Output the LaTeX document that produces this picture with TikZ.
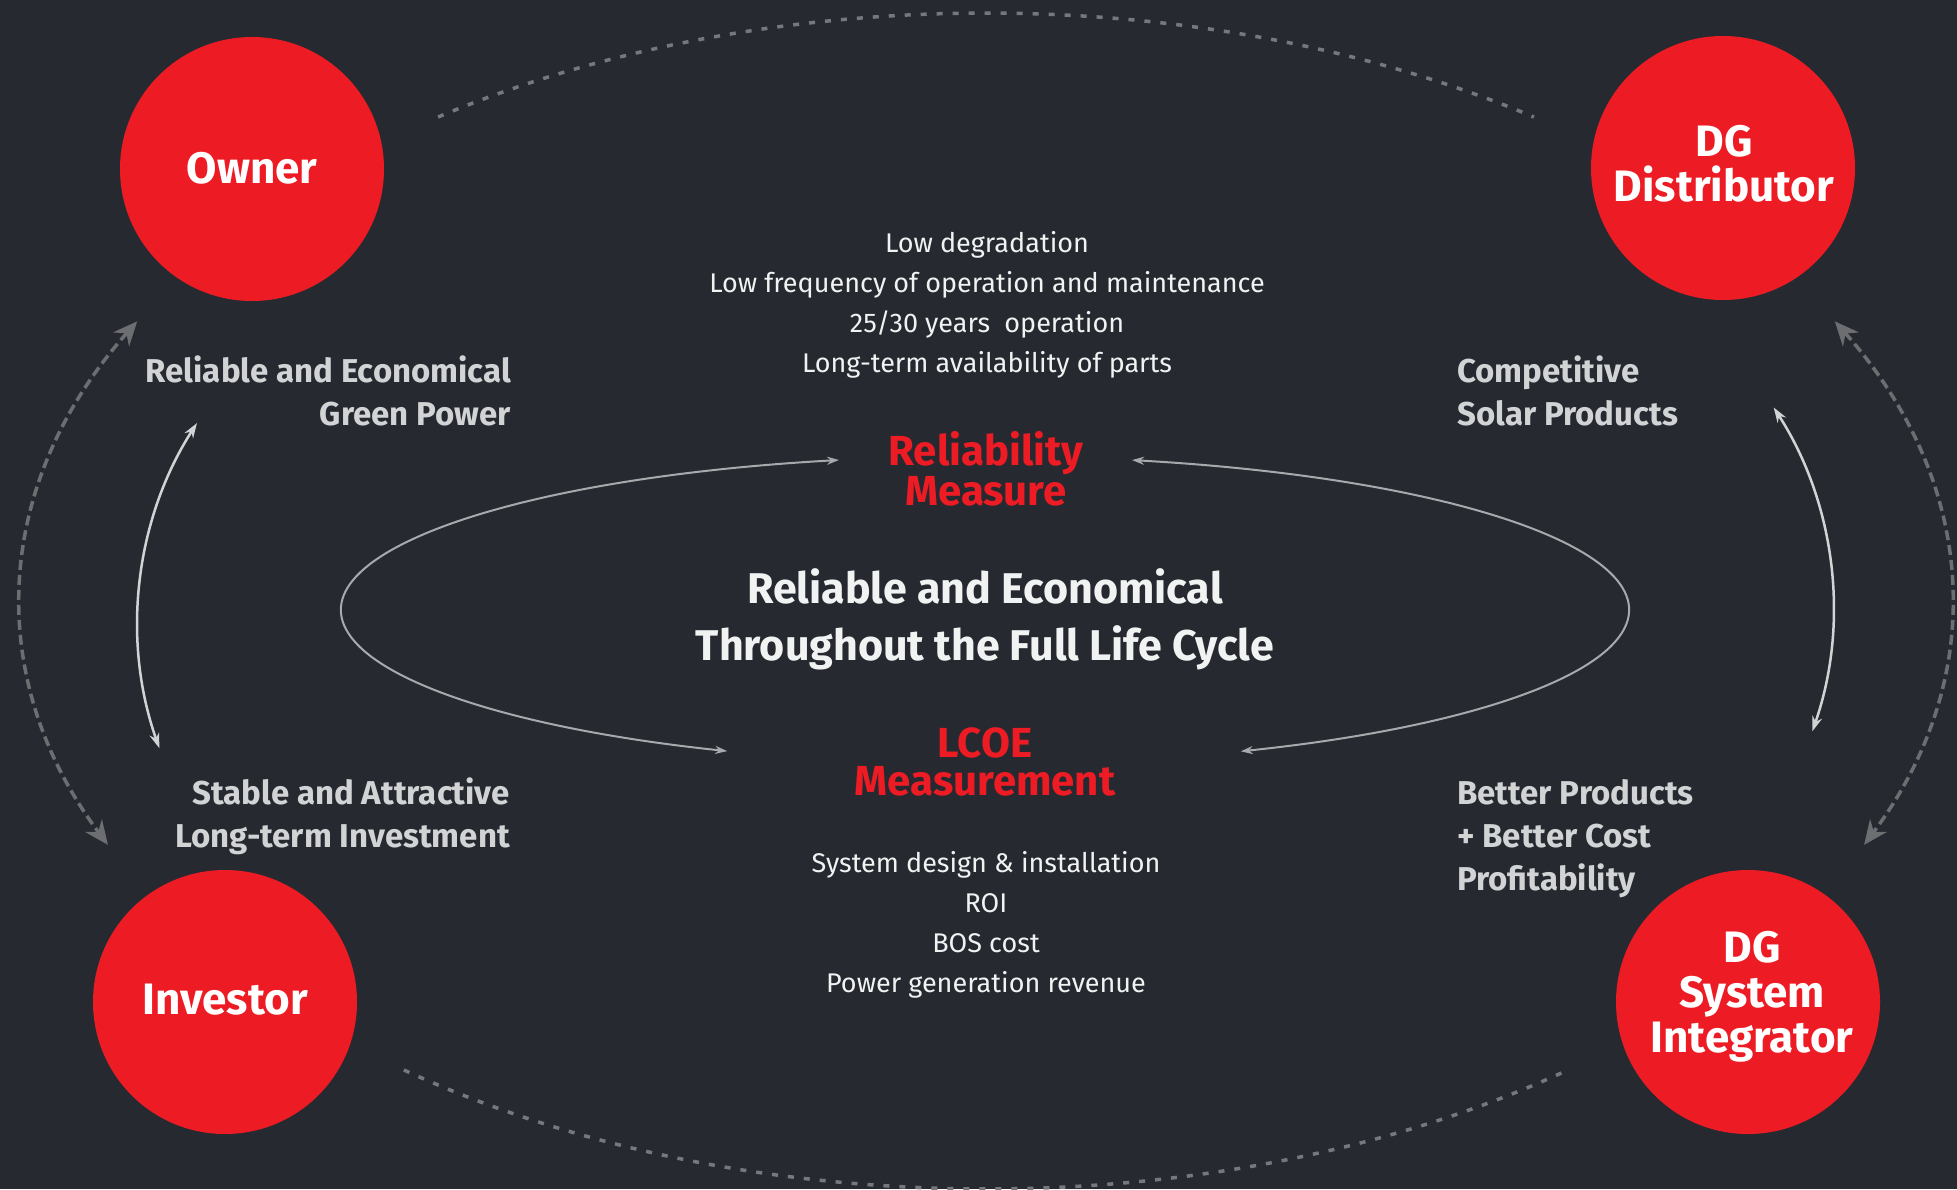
\documentclass[tikz,border=0pt]{standalone}
\usepackage{fontspec}
\setmainfont{Fira Sans}
\usetikzlibrary{arrows.meta,calc}
\definecolor{bgc}{HTML}{262A30}
\definecolor{redc}{HTML}{ED1C24}
\definecolor{whitec}{HTML}{F1F2F2}
\definecolor{sidec}{HTML}{D1D3D4}
\definecolor{dashc}{HTML}{6D6E71}
\definecolor{topc}{HTML}{77787B}
\definecolor{loopc}{HTML}{A7A9AC}
\definecolor{innerc}{HTML}{D1D3D4}
\begin{document}
\begin{tikzpicture}[x=1pt,y=1pt,
  circ/.style={circle, fill=redc, minimum size=264pt, inner sep=0pt},
  ctext/.style={text=white, font=\fontsize{44}{45}\selectfont\bfseries, align=center, inner sep=0pt},
  side/.style={text=sidec, font=\fontsize{33}{43}\selectfont\bfseries, inner sep=0pt},
  listtext/.style={text=whitec, font=\fontsize{27}{40}\selectfont, align=center, inner sep=0pt},
  redtext/.style={text=redc, font=\fontsize{42}{38}\selectfont\bfseries, align=center, inner sep=0pt},
  titletext/.style={text=whitec, font=\fontsize{43}{57}\selectfont\bfseries, align=center, inner sep=0pt},
  outerarr/.style={draw=dashc, line width=3.5pt, dash pattern=on 10pt off 5pt,
     arrows={Stealth[length=24pt,width=21pt]-Stealth[length=24pt,width=21pt]}},
  toparc/.style={draw=topc, line width=3.5pt, dash pattern=on 6pt off 10pt},
  innerarr/.style={draw=innerc, line width=2.5pt,
     arrows={Stealth[length=15pt,width=10pt]-Stealth[length=15pt,width=10pt]}},
  looparr/.style={draw=loopc, line width=2pt,
     arrows={Stealth[length=12pt,width=8pt]-Stealth[length=12pt,width=8pt]}}
]
\fill[bgc] (0,0) rectangle (1957,-1189);
\useasboundingbox (0,0) rectangle (1957,-1189);

% centres of the guide ellipses
\coordinate (bigC) at (986,-601);
\coordinate (loopC) at (985,-610);
\coordinate (leftC) at (510,-624);
\coordinate (rightC) at (1461,-609);

% big dashed ellipse pieces
\coordinate (topS) at ($(bigC)+(124.6:965pt and 588pt)$);
\coordinate (botS) at ($(bigC)+(232.9:965pt and 588pt)$);
\coordinate (oLS) at ($(bigC)+(151.6:965pt and 588pt)$);
\coordinate (oRS) at ($(bigC)+(28.4:965pt and 588pt)$);
\draw[toparc] (topS) arc[start angle=124.6, end angle=55.4, x radius=965pt, y radius=588pt];
\draw[toparc] (botS) arc[start angle=232.9, end angle=306.7, x radius=965pt, y radius=588pt];
\draw[outerarr] (oLS) arc[start angle=151.6, end angle=204.5, x radius=965pt, y radius=588pt];
\draw[outerarr] (oRS) arc[start angle=28.4, end angle=-24.5, x radius=965pt, y radius=588pt];

% inner solid side arcs
\coordinate (iLS) at ($(leftC)+(147.3:372pt)$);
\coordinate (iRS) at ($(rightC)+(32.8:372pt)$);
\draw[innerarr] (iLS) arc[start angle=147.3, end angle=199.5, radius=372pt];
\draw[innerarr] (iRS) arc[start angle=32.8, end angle=-19.2, radius=372pt];

% central loop
\coordinate (lLS) at ($(loopC)+(103.1:644pt and 154pt)$);
\coordinate (lRS) at ($(loopC)+(76.8:644pt and 154pt)$);
\draw[looparr] (lLS) arc[start angle=103.1, end angle=246.4, x radius=644pt, y radius=154pt];
\draw[looparr] (lRS) arc[start angle=76.8, end angle=-66.6, x radius=644pt, y radius=154pt];

% circles
\node[circ] (owner) at (252,-169) {};
\node[circ] (dist) at (1723,-168) {};
\node[circ] (inv) at (225,-1002) {};
\node[circ] (integ) at (1748,-1002) {};

% (base anchor of a multi-line node = baseline of its last line)
\node[ctext, anchor=base] (ownerT) at (252,-183) {Owner};
\node[ctext, anchor=base] (distT) at (1724,-201) {DG\\Distributor};
\node[ctext, anchor=base] (invT) at (225,-1014) {Investor};
\node[ctext, anchor=base] (integT) at (1752,-1052) {DG\\System\\Integrator};

% side labels
\node[side, align=right, anchor=base east] (ltL) at (511,-425) {Reliable and Economical\\Green Power};
\node[side, align=right, anchor=base east] (lbL) at (510,-847) {Stable and Attractive\\Long-term Investment};
\node[side, align=left, anchor=base west] (rtL) at (1457,-425) {Competitive\\Solar Products};
\node[side, align=left, anchor=base west] (rbL) at (1457,-890) {Better Products\\+ Better Cost\\Profitability};

% centre texts
\node[listtext, anchor=base] (topList) at (987,-372) {Low degradation\\Low frequency of operation and maintenance\\25/30 years\ \ operation\\Long-term availability of parts};
\node[redtext, anchor=base] (rel) at (986,-505) {Reliability\\Measure};
\node[titletext, anchor=base] (title) at (985,-660) {Reliable and Economical\\Throughout the Full Life Cycle};
\node[redtext, anchor=base] (lcoe) at (985,-795) {LCOE\\Measurement};
\node[listtext, anchor=base] (botList) at (986,-992) {System design \& installation\\ROI\\BOS cost\\Power generation revenue};
\end{tikzpicture}
\end{document}
